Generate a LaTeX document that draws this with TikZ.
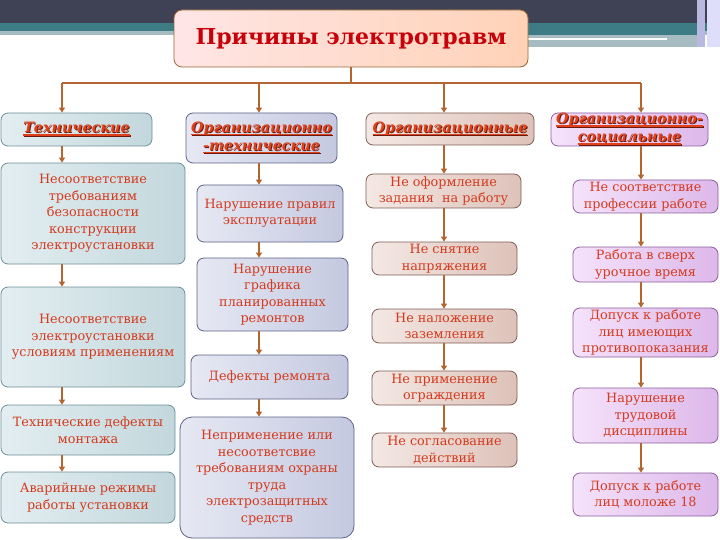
\documentclass[tikz,border=0pt]{standalone}
\usepackage{fontspec}
\setmainfont{DejaVu Serif}
\usepackage{tikz}
\usetikzlibrary{arrows.meta,calc}

\definecolor{topdark}{HTML}{3F4254}
\definecolor{topteal}{HTML}{3D7C85}
\definecolor{topgray}{HTML}{A7BCC0}
\definecolor{linkbrown}{HTML}{B5652F}
\definecolor{bodyred}{HTML}{D43A1E}
\definecolor{headred}{HTML}{E0401A}
\definecolor{headshadow}{HTML}{6A1B0E}
\definecolor{titlered}{HTML}{C8000A}
\definecolor{techL}{HTML}{E3EEF1}
\definecolor{techR}{HTML}{C2D7DC}
\definecolor{techD}{HTML}{6F8F98}
\definecolor{orgtL}{HTML}{E6E8F3}
\definecolor{orgtR}{HTML}{C4C9E0}
\definecolor{orgtD}{HTML}{5D6285}
\definecolor{orgL}{HTML}{F4E8E4}
\definecolor{orgR}{HTML}{DDC2B9}
\definecolor{orgD}{HTML}{7D5E55}
\definecolor{socL}{HTML}{F5E2FA}
\definecolor{socR}{HTML}{DDB8EA}
\definecolor{socD}{HTML}{8C5E9E}

% underlined header text with a dark shadow
\newcommand\headtxt[1]{%
  \setbox0\hbox{#1}%
  \rlap{\kern0.9pt\raisebox{-0.9pt}{\color{headshadow}\rule[-3pt]{\wd0}{1.4pt}}}%
  \rlap{\kern0.9pt\raisebox{-0.9pt}{\color{headshadow}#1}}%
  \rlap{\rule[-3pt]{\wd0}{1.4pt}}#1}

\tikzset{
  box/.style={rounded corners=7pt,line width=0.8pt,align=center,inner sep=0pt,
    text=bodyred,font=\fontsize{12.8}{16.5}\selectfont},
  techbox/.style={box,draw=techD,left color=techL,right color=techR},
  orgtbox/.style={box,draw=orgtD,left color=orgtL,right color=orgtR},
  orgbox/.style={box,draw=orgD,left color=orgL,right color=orgR},
  socbox/.style={box,draw=socD,left color=socL,right color=socR},
  headfont/.style={text=headred,font=\fontsize{14.3}{18}\selectfont\bfseries\itshape},
  link/.style={draw=linkbrown,line width=1.8pt},
  arr/.style={link,-{Triangle[length=5pt,width=6pt]}}
}

\begin{document}
\begin{tikzpicture}[x=1pt,y=-1pt]
\useasboundingbox (0,0) rectangle (720,540);

% top band
\fill[topdark] (0,0) rectangle (720,23);
\fill[topteal] (0,23) rectangle (720,31);
\fill[topgray] (0,31) rectangle (720,35);
\fill[topteal] (528,31) rectangle (700,35);
\fill[topgray] (528,35) rectangle (700,47);
\fill[white] (528,38) rectangle (667,40);
\fill[gray!60!blue!40] (697,0) rectangle (705,47);
\fill[gray!25!blue!15] (707,0) rectangle (720,47);

% title
\node[draw=brown!80!black,line width=0.8pt,rounded corners=8pt,left color=red!10!white,right color=red!25!orange!28!white,
  minimum width=354pt,minimum height=57pt,text=titlered,font=\fontsize{22}{25}\selectfont\bfseries]
  (title) at (351,38.5) {Причины электротравм};

% columns
\coordinate (col1) at (62,83);
\coordinate (col2) at (259,83);
\coordinate (col3) at (444,83);
\coordinate (col4) at (641,83);

% headers
\node[techbox,headfont,minimum width=151pt,minimum height=33pt] (h1) at (76.5,129.5) {\headtxt{Технические}};
\node[orgtbox,headfont,minimum width=151pt,minimum height=50pt] (h2) at (261.5,138) {\headtxt{Организационно}\\\headtxt{-технические}};
\node[orgbox,headfont,minimum width=168pt,minimum height=32pt] (h3) at (450,129) {\headtxt{Организационные}};
\node[socbox,headfont,minimum width=157pt,minimum height=33pt] (h4) at (629.5,129.5) {\headtxt{Организационно-}\\\headtxt{социальные}};

% technical
\node[techbox,minimum width=184pt,minimum height=101pt] (a1) at (93,213.5) {Несоответствие\\требованиям\\безопасности\\конструкции\\электроустановки};
\node[techbox,minimum width=184pt,minimum height=100pt] (a2) at (93,337) {Несоответствие\\электроустановки\\условиям применениям};
\node[techbox,minimum width=174pt,minimum height=50pt] (a3) at (88,430) {Технические дефекты\\монтажа};
\node[techbox,minimum width=174pt,minimum height=51pt] (a4) at (88,497.5) {Аварийные режимы\\работы установки};

% organisational-technical
\node[orgtbox,minimum width=146pt,minimum height=57pt] (b1) at (270,213.5) {Нарушение правил\\эксплуатации};
\node[orgtbox,minimum width=151pt,minimum height=73pt] (b2) at (272.5,294.5) {Нарушение\\графика\\планированных\\ремонтов};
\node[orgtbox,minimum width=157pt,minimum height=44pt] (b3) at (269.5,377) {Дефекты ремонта};
\node[orgtbox,rounded corners=12pt,minimum width=174pt,minimum height=121pt] (b4) at (267,477.5) {Неприменение или\\несоответсвие\\требованиям охраны\\труда\\электрозащитных\\средств};

% organisational
\node[orgbox,minimum width=155pt,minimum height=34pt] (c1) at (443.5,191) {Не оформление\\задания\ \ на работу};
\node[orgbox,minimum width=145pt,minimum height=33pt] (c2) at (444.5,258.5) {Не снятие\\напряжения};
\node[orgbox,minimum width=145pt,minimum height=34pt] (c3) at (444.5,326) {Не наложение\\заземления};
\node[orgbox,minimum width=145pt,minimum height=34pt] (c4) at (444.5,388) {Не применение\\ограждения};
\node[orgbox,minimum width=145pt,minimum height=34pt] (c5) at (444.5,450) {Не согласование\\действий};

% organisational-social
\node[socbox,minimum width=145pt,minimum height=33pt] (d1) at (645.5,196.5) {Не соответствие\\профессии работе};
\node[socbox,minimum width=145pt,minimum height=35pt] (d2) at (645.5,264.5) {Работа в сверх\\урочное время};
\node[socbox,minimum width=145pt,minimum height=49pt] (d3) at (645.5,332.5) {Допуск к работе\\лиц имеющих\\противопоказания};
\node[socbox,minimum width=145pt,minimum height=55pt] (d4) at (645.5,415.5) {Нарушение\\трудовой\\дисциплины};
\node[socbox,minimum width=145pt,minimum height=43pt] (d5) at (645.5,494.5) {Допуск к работе\\лиц моложе 18};

% connectors
\draw[link] (title.south) -- (title.south |- col1);
\draw[link] (col1) -- (col4);
\foreach \c/\h in {col1/h1,col2/h2,col3/h3,col4/h4}
  \draw[arr] (\c) -- (\c |- \h.north);
\foreach \u/\v/\c in {h1/a1/col1,a1/a2/col1,a2/a3/col1,a3/a4/col1,
                      h2/b1/col2,b1/b2/col2,b2/b3/col2,b3/b4/col2,
                      h3/c1/col3,c1/c2/col3,c2/c3/col3,c3/c4/col3,c4/c5/col3,
                      h4/d1/col4,d1/d2/col4,d2/d3/col4,d3/d4/col4,d4/d5/col4}
  \draw[arr] (\u.south -| \c) -- (\v.north -| \c);
\end{tikzpicture}
\end{document}
